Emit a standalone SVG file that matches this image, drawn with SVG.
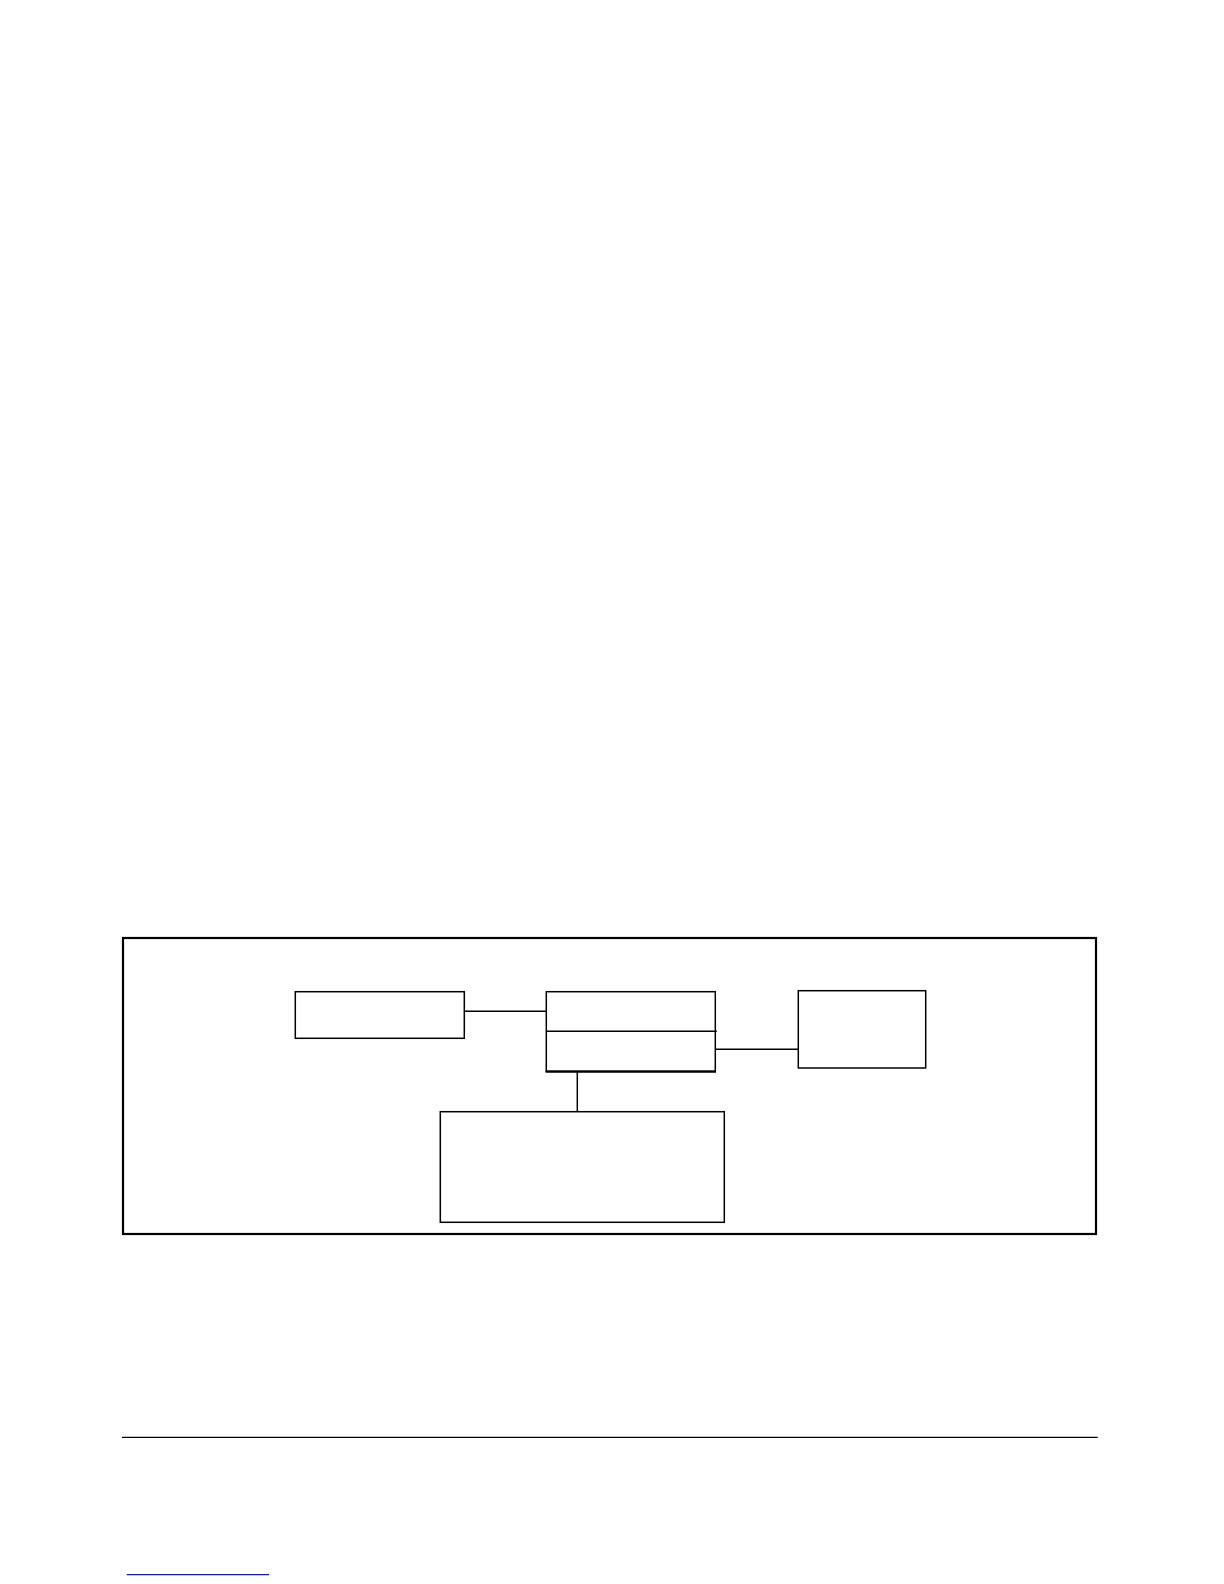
<svg xmlns="http://www.w3.org/2000/svg" width="1224" height="1584" viewBox="0 0 1224 1584">
<style>
.box{fill:#fff;stroke:#000;stroke-width:1.5}
.con{fill:none;stroke:#000;stroke-width:1.5}
</style>
<rect x="0" y="0" width="1224" height="1584" fill="#fff"/>
<rect id="frame" x="123" y="938" width="973" height="296" fill="none" stroke="#000" stroke-width="2.2"/>
<g id="connectors">
<line class="con" x1="464.3" y1="1011.3" x2="546.3" y2="1011.3"/>
<line class="con" x1="715.3" y1="1049.3" x2="798.3" y2="1049.3"/>
<line class="con" x1="577.3" y1="1071.3" x2="577.3" y2="1111.7"/>
</g>
<g id="node-left"><rect class="box" x="295.3" y="991.7" width="169" height="46.6"/></g>
<g id="node-center">
<rect class="box" x="546.3" y="991.7" width="169" height="79.6"/>
<line class="con" x1="546.3" y1="1031.3" x2="716.8" y2="1031.3"/>
<line x1="545.6" y1="1071.6" x2="716" y2="1071.6" stroke="#000" stroke-width="2.2"/>
</g>
<g id="node-right"><rect class="box" x="798.3" y="990.7" width="127.4" height="77.3"/></g>
<g id="node-bottom"><rect class="box" x="440.3" y="1111.7" width="284" height="110.6"/></g>
<line x1="122" y1="1437.3" x2="1097.7" y2="1437.3" stroke="#000" stroke-width="1.3"/>
<line x1="126.7" y1="1574.7" x2="269" y2="1574.7" stroke="#1a1a8c" stroke-width="1.3"/>
</svg>
